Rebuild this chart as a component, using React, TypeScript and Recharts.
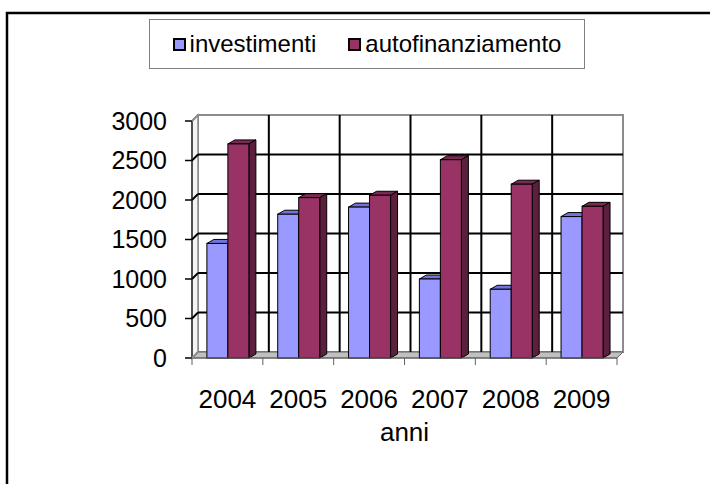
import React from 'react';
import { BarChart, Bar, XAxis, YAxis, CartesianGrid, Legend } from 'recharts';

const YEARS = ['2004', '2005', '2006', '2007', '2008', '2009'];
const INVESTIMENTI = [1450, 1820, 1910, 1000, 870, 1790];
const AUTOFINANZIAMENTO = [2710, 2030, 2060, 2510, 2200, 1920];
const Y_TICKS = [0, 500, 1000, 1500, 2000, 2500, 3000];
const SERIES = [
  { key: 'investimenti', front: '#9999FF', top: '#7373DD', side: '#5A5AB8' },
  { key: 'autofinanziamento', front: '#993366', top: '#7A2952', side: '#5C1F3D' },
];

const data = YEARS.map((anno, i) => ({
  anno,
  investimenti: INVESTIMENTI[i],
  autofinanziamento: AUTOFINANZIAMENTO[i],
}));

const W = 710;
const H = 484;
const PLOT_L = 192;
const PLOT_R = 617;
const PLOT_T = 121;
const PLOT_B = 358;
const DX = 6;
const DY = -6;
const BAR_DX = 7;
const BAR_DY = -4;
const FONT = '"Liberation Sans", Arial, sans-serif';
const Y_TICK_SIZE = 7;
const Y_TICK_MARGIN = 18;
const X_TICK_SIZE = 7;
const X_TICK_MARGIN = 24;

const callScale = (s: any, v: any): number => {
  if (typeof s === 'function') return s(v);
  if (s && typeof s.map === 'function') return s.map(v);
  if (s && typeof s.apply === 'function') return s.apply(v);
  return 0;
};

const Bar3D = (props: any) => {
  const { x, y, width, height, colors } = props;
  if (x == null || y == null || !width) return null;
  const h = Math.max(0, height);
  const topPts = `${x},${y} ${x + BAR_DX},${y + BAR_DY} ${x + width + BAR_DX},${y + BAR_DY} ${x + width},${y}`;
  const sidePts = `${x + width},${y} ${x + width + BAR_DX},${y + BAR_DY} ${x + width + BAR_DX},${y + h + BAR_DY} ${x + width},${y + h}`;
  return (
    <g>
      <polygon points={topPts} fill={colors.top} stroke="#000" strokeWidth={1} strokeLinejoin="round" />
      <polygon points={sidePts} fill={colors.side} stroke="#000" strokeWidth={1} strokeLinejoin="round" />
      <rect x={x} y={y} width={width} height={h} fill={colors.front} stroke="#000" strokeWidth={1} />
    </g>
  );
};

const YTick = (props: any) => {
  const { x, y, payload } = props;
  const ax = x + Y_TICK_MARGIN + Y_TICK_SIZE;
  const edge = payload.value === Y_TICKS[0] || payload.value === Y_TICKS[Y_TICKS.length - 1];
  return (
    <g>
      <line x1={ax} y1={y} x2={ax + DX} y2={y + DY} stroke={edge ? '#8c8c8c' : '#000'} strokeWidth={2} />
      <text x={x} y={y} dy="0.355em" textAnchor="end" fontSize={25} fill="#000" fontFamily={FONT}>
        {payload.value}
      </text>
    </g>
  );
};

const XTick = (props: any) => {
  const { x, y, payload, index } = props;
  const half = payload && payload.offset ? payload.offset : (PLOT_R - PLOT_L) / YEARS.length / 2;
  const ay = y - X_TICK_SIZE - X_TICK_MARGIN;
  return (
    <g>
      <line x1={x - half} y1={ay} x2={x - half} y2={ay + X_TICK_SIZE} stroke="#606060" strokeWidth={1} />
      {index === YEARS.length - 1 && (
        <line x1={x + half} y1={ay} x2={x + half} y2={ay + X_TICK_SIZE} stroke="#606060" strokeWidth={1} />
      )}
      <text x={x} y={y + 18.5} textAnchor="middle" fontSize={26} fill="#000" fontFamily={FONT}>
        {payload.value}
      </text>
    </g>
  );
};

const renderLegend = () => (
  <div
    style={{
      boxSizing: 'border-box',
      width: 436,
      height: 50,
      border: '1px solid #808080',
      background: '#fff',
      display: 'flex',
      alignItems: 'center',
      justifyContent: 'center',
      fontSize: 24,
      color: '#000',
      fontFamily: FONT,
      gap: 32,
    }}
  >
    {SERIES.map((s) => (
      <div key={s.key} style={{ display: 'flex', alignItems: 'center' }}>
        <span
          style={{
            display: 'inline-block',
            boxSizing: 'border-box',
            width: 13,
            height: 13,
            background: s.front,
            border: '2px solid #000',
            marginRight: 4,
          }}
        />
        <span>{s.key}</span>
      </div>
    ))}
  </div>
);

export default function App() {
  const backX = PLOT_L + DX;
  const backY = PLOT_T + DY;
  const plotW = PLOT_R - PLOT_L;
  const plotH = PLOT_B - PLOT_T;
  return (
    <div style={{ position: 'absolute', left: 0, top: 0, width: W, height: H, background: '#fff', fontFamily: FONT }}>
      <svg width={W} height={H} style={{ position: 'absolute', left: 0, top: 0 }}>
        <rect x={7} y={13} width={W + 20} height={H + 20} fill="#fff" stroke="#000" strokeWidth={2.5} />
        <rect x={backX} y={backY} width={plotW} height={plotH} fill="#fff" stroke="#8c8c8c" strokeWidth={2} />
        <polygon
          points={`${PLOT_L},${PLOT_T} ${backX},${backY} ${backX},${PLOT_B + DY} ${PLOT_L},${PLOT_B}`}
          fill="#f4f4f4"
          stroke="#8c8c8c"
          strokeWidth={1.5}
        />
        <polygon
          points={`${PLOT_L},${PLOT_B} ${PLOT_R},${PLOT_B} ${PLOT_R + DX},${PLOT_B + DY} ${backX},${PLOT_B + DY}`}
          fill="#c0c0c0"
          stroke="#606060"
          strokeWidth={1}
        />
      </svg>
      <div style={{ position: 'absolute', left: 0, top: 0 }}>
        <BarChart
          width={W}
          height={H}
          data={data}
          margin={{ top: PLOT_T, right: W - PLOT_R, bottom: 0, left: 0 }}
          barCategoryGap="21%"
          barGap={0}
        >
          <CartesianGrid
            x={backX}
            y={backY}
            width={plotW}
            height={plotH}
            stroke="#000"
            strokeWidth={2}
            fill="none"
            horizontalCoordinatesGenerator={({ yAxis }: any) =>
              Y_TICKS.slice(1, -1).map((v) => callScale(yAxis.scale, v) + DY)
            }
            verticalCoordinatesGenerator={({ xAxis }: any) =>
              YEARS.slice(1).map((c) => callScale(xAxis.scale, c) + DX)
            }
          />
          <XAxis
            dataKey="anno"
            height={H - PLOT_B}
            tickLine={false}
            tickSize={X_TICK_SIZE}
            tickMargin={X_TICK_MARGIN}
            axisLine={{ stroke: '#606060', strokeWidth: 1 }}
            tick={<XTick />}
            interval={0}
            label={{ value: 'anni', position: 'insideTop', offset: 65, fontSize: 26, fill: '#000', fontFamily: FONT }}
          />
          <YAxis
            width={PLOT_L}
            domain={[0, 3000]}
            ticks={Y_TICKS}
            interval={0}
            tickSize={Y_TICK_SIZE}
            tickMargin={Y_TICK_MARGIN}
            tickLine={{ stroke: '#000', strokeWidth: 1.5 }}
            axisLine={{ stroke: '#505050', strokeWidth: 2 }}
            tick={<YTick />}
          />
          <Legend
            content={renderLegend}
            layout="horizontal"
            verticalAlign="middle"
            align="center"
            wrapperStyle={{ top: 19, left: 149, width: 436, height: 50 }}
          />
          {SERIES.map((s) => (
            <Bar
              key={s.key}
              dataKey={s.key}
              isAnimationActive={false}
              fill={s.front}
              shape={(p: any) => <Bar3D {...p} colors={s} />}
            />
          ))}
        </BarChart>
      </div>
    </div>
  );
}
